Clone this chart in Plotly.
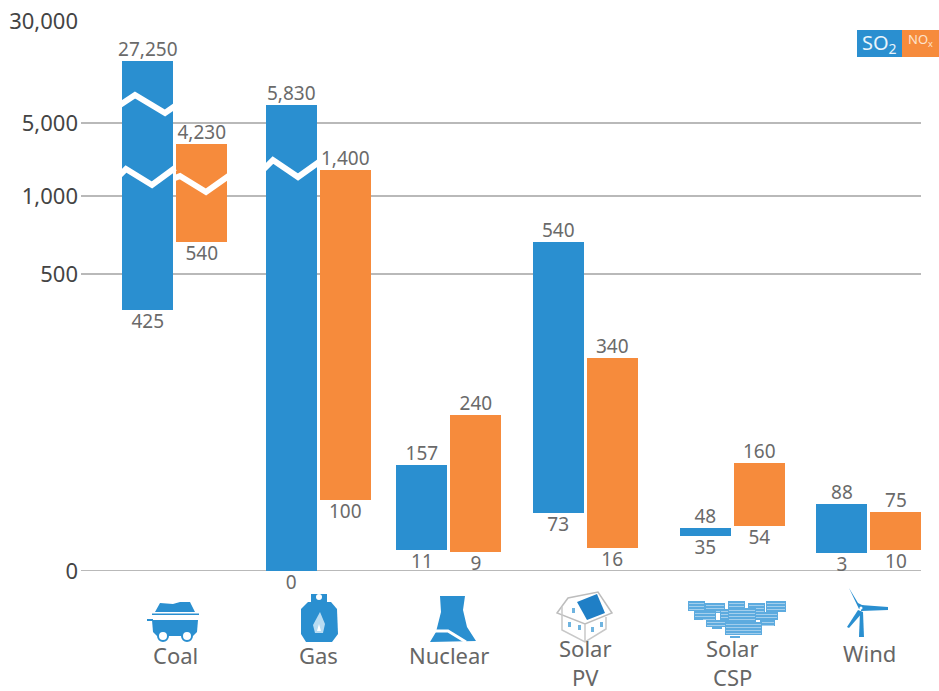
import numpy as np
import plotly.graph_objects as go

# ---- data ----
CATEGORIES = ["Coal", "Gas", "Nuclear", "Solar<br>PV", "Solar<br>CSP", "Wind"]
SO2_LOW = [425, 0, 11, 73, 35, 3]
SO2_HIGH = [27250, 5830, 157, 540, 48, 88]
NOX_LOW = [540, 100, 9, 16, 54, 10]
NOX_HIGH = [4230, 1400, 240, 340, 160, 75]
TICK_VALUES = [0, 500, 1000, 5000, 30000]
TICK_LABELS = ["0", "500", "1,000", "5,000", "30,000"]
GRID_VALUES = [0, 500, 1000, 5000]

# the chart's hand-drawn, broken vertical scale: value -> axis height
SCALE_VALUE = [0, 3, 9, 10, 11, 16, 35, 48, 54, 73, 75, 88, 100, 157, 160, 240, 340,
               425, 500, 540, 1000, 1400, 4230, 5000, 5830, 27250, 30000]
SCALE_HEIGHT = [0, 18, 19, 21, 21, 23, 35, 43, 45, 58, 59, 67, 71, 106, 108, 156, 213,
                261, 297, 329, 375, 401, 427, 448, 466, 510, 550]


def scale(v):
    return np.interp(v, SCALE_VALUE, SCALE_HEIGHT)


# ---- layout constants ----
W, H = 939, 691
L, R, T, B = 79, 921, 21, 571
GRID_LEFT = 81
BLUE, ORANGE = "#2a8fd0", "#f68b3c"
FONT = "Noto Sans"
GROUP_X = np.array([174.8, 318.3, 448.9, 585.2, 732.3, 868.9])
OFFSET = 27
BAR_W = 51

fig = go.Figure()


def add_series(name, low, high, xs, color):
    lo, hi = scale(low), scale(high)
    fig.add_bar(name=name, x=xs, y=hi - lo, base=lo, width=BAR_W,
                marker=dict(color=color, line=dict(width=0)), showlegend=False)
    fig.add_scatter(x=xs, y=hi, mode="text", text=[f"{v:,}" for v in high],
                    textposition="top center", cliponaxis=False, showlegend=False,
                    textfont=dict(size=19, color="#6a6a6a", family=FONT))
    fig.add_scatter(x=xs, y=lo, mode="markers+text", text=[f"{v:,}" for v in low],
                    marker=dict(size=5, opacity=0),
                    textposition="bottom center", cliponaxis=False, showlegend=False,
                    textfont=dict(size=19, color="#6a6a6a", family=FONT))


add_series("SO2", SO2_LOW, SO2_HIGH, GROUP_X - OFFSET, BLUE)
add_series("NOx", NOX_LOW, NOX_HIGH, GROUP_X + OFFSET, ORANGE)


# ---- decoration helpers (pixel positions -> paper space) ----
def px(x):
    return (x - L) / (R - L)


def py(y):
    return (B - y) / (B - T)


shapes = []
for v in GRID_VALUES:
    shapes.append(dict(type="line", xref="paper", yref="y", x0=px(GRID_LEFT), x1=1, y0=scale(v), y1=scale(v),
                       line=dict(color="#b9b9b9", width=2), layer="below"))


def poly(pts, fill=None, line=None, lw=0, closed=True):
    d = "M " + " L ".join(f"{px(x):.5f},{py(y):.5f}" for x, y in pts) + (" Z" if closed else "")
    shapes.append(dict(type="path", xref="paper", yref="paper", path=d,
                       fillcolor=fill if fill else "rgba(0,0,0,0)",
                       line=dict(color=line if line else "rgba(0,0,0,0)", width=lw), layer="above"))


def rect(x0, y0, x1, y1, fill):
    shapes.append(dict(type="rect", xref="paper", yref="paper", x0=px(x0), x1=px(x1), y0=py(y0), y1=py(y1),
                       fillcolor=fill, line=dict(width=0), layer="above"))


def circle(cx, cy, r, fill, line=None, lw=0):
    shapes.append(dict(type="circle", xref="paper", yref="paper", x0=px(cx - r), x1=px(cx + r),
                       y0=py(cy - r), y1=py(cy + r), fillcolor=fill,
                       line=dict(color=line if line else "rgba(0,0,0,0)", width=lw), layer="above"))


# axis-break zigzags
for zz in ([(120, 105), (135, 95), (165, 113), (175, 106)],
           [(120, 175), (126, 169), (152, 185), (175, 168)],
           [(175, 178), (180, 176), (206, 192), (230, 175)],
           [(264, 169), (273, 160), (298, 177), (319, 162)]):
    poly(zz, line="white", lw=6, closed=False)

# coal cart
poly([(155, 612), (160, 603), (173, 604), (180, 602), (190, 602), (195, 612)], fill=BLUE)
rect(152, 613.5, 199, 615, BLUE)
poly([(152, 620), (198, 620), (197, 632), (193, 636), (157, 636), (153, 632)], fill=BLUE)
rect(147, 619, 153, 621, BLUE)
circle(163, 636, 5, "white", BLUE, 2)
circle(187, 636, 5, "white", BLUE, 2)

# gas bottle
rect(311, 594, 327, 604, BLUE)
circle(319, 597, 3, "white")
poly([(308, 602), (331, 602), (337, 609), (338, 634), (332, 642), (306, 642), (301, 634), (301, 609)], fill=BLUE)
poly([(320, 612), (325, 624), (323, 633), (315, 633), (313, 625)], fill="#b9dcf2")
poly([(319, 624), (321, 631), (317, 631)], fill="white")

# cooling tower
poly([(440, 596), (465, 596), (463, 610), (467, 627), (476, 641), (430, 642), (436, 632), (441, 612)], fill=BLUE)
poly([(431, 631), (448, 631), (466, 642)], line="white", lw=3, closed=False)

# house with solar roof
poly([(557, 613), (568, 598), (598, 592), (612, 613), (585, 624)], fill="white", line="#bdbdbd", lw=1.5)
poly([(562, 607), (562, 630), (585, 642), (606, 629), (606, 617)], line="#c8c8c8", lw=1.5, closed=False)
poly([(585, 624), (585, 642)], line="#c8c8c8", lw=1.5, closed=False)
poly([(577, 602), (597, 594), (605, 613), (587, 620)], fill="#1f7fc6")
for x, y in [(568, 625), (578, 628), (591, 630), (600, 625), (572, 611)]:
    rect(x, y - 3, x + 3, y + 2, "#6fb4e0")

# solar field
for x0, y0, x1, y1 in [(688, 601, 705, 611), (705, 603, 725, 613), (728, 601, 745, 611),
                       (748, 603, 765, 613), (766, 601, 786, 612), (694, 611, 716, 620),
                       (720, 609, 745, 622), (750, 612, 778, 620), (706, 620, 730, 627),
                       (760, 620, 775, 626), (725, 622, 762, 635), (728, 608, 756, 622)]:
    rect(x0, y0, x1, y1, "#5dabdf")
    for yy in np.arange(y0 + 2, y1, 3):
        rect(x0 + 1, yy, x1 - 1, yy + 0.8, "#b7d9f0")
for x0, x1, y in [(695, 703, 619), (712, 722, 628), (730, 740, 637)]:
    rect(x0, y - 1, x1, y + 1, "#5dabdf")

# wind turbine
poly([(849, 588), (858, 603), (864, 606), (859, 609)], fill=BLUE)
poly([(861, 605), (888, 607), (888, 610), (861, 611)], fill=BLUE)
poly([(858, 610), (863, 612), (849, 628), (847, 627)], fill=BLUE)
poly([(860, 612), (863, 612), (864, 637), (859, 637)], fill=BLUE)
circle(861, 608, 1.5, "white")

# legend chips
rect(857, 30, 902, 57, BLUE)
rect(902, 30, 939, 57, ORANGE)

annotations = []


def label(x, y, text, size, color):
    annotations.append(dict(xref="paper", yref="paper", x=px(x), y=py(y), text=text, showarrow=False,
                            xanchor="center", yanchor="middle",
                            font=dict(size=size, color=color, family=FONT)))


label(879, 43, "SO<sub>2</sub>", 20, "#e9f4fb")
label(920, 40, "NO<sub>x</sub>", 13, "#fde3cc")
CATEGORY_Y = [655, 655, 655, 648, 648, 653]
for cx, name, yy in zip(GROUP_X + 0.5, CATEGORIES, CATEGORY_Y):
    for i, part in enumerate(name.split("<br>")):
        label(cx, yy + 28.5 * i, part, 22, "#666666")

fig.update_layout(
    width=W, height=H, autosize=False,
    margin=dict(l=L, r=W - R, t=T, b=H - B, autoexpand=False),
    plot_bgcolor="white", paper_bgcolor="white",
    barmode="overlay", bargap=0,
    shapes=shapes, annotations=annotations,
    font=dict(family=FONT),
    xaxis=dict(range=[L, R], showgrid=False, zeroline=False, showticklabels=False, ticks="", fixedrange=True),
    yaxis=dict(range=[0, 550], showgrid=False, zeroline=False, ticks="",
               tickmode="array", tickvals=scale(TICK_VALUES), ticktext=TICK_LABELS,
               tickfont=dict(size=22, color="#444444", family=FONT), fixedrange=True),
)

fig.write_html("out.html", config={"displayModeBar": False},
               post_script="document.body.style.margin='0';document.documentElement.style.overflow='hidden';")
